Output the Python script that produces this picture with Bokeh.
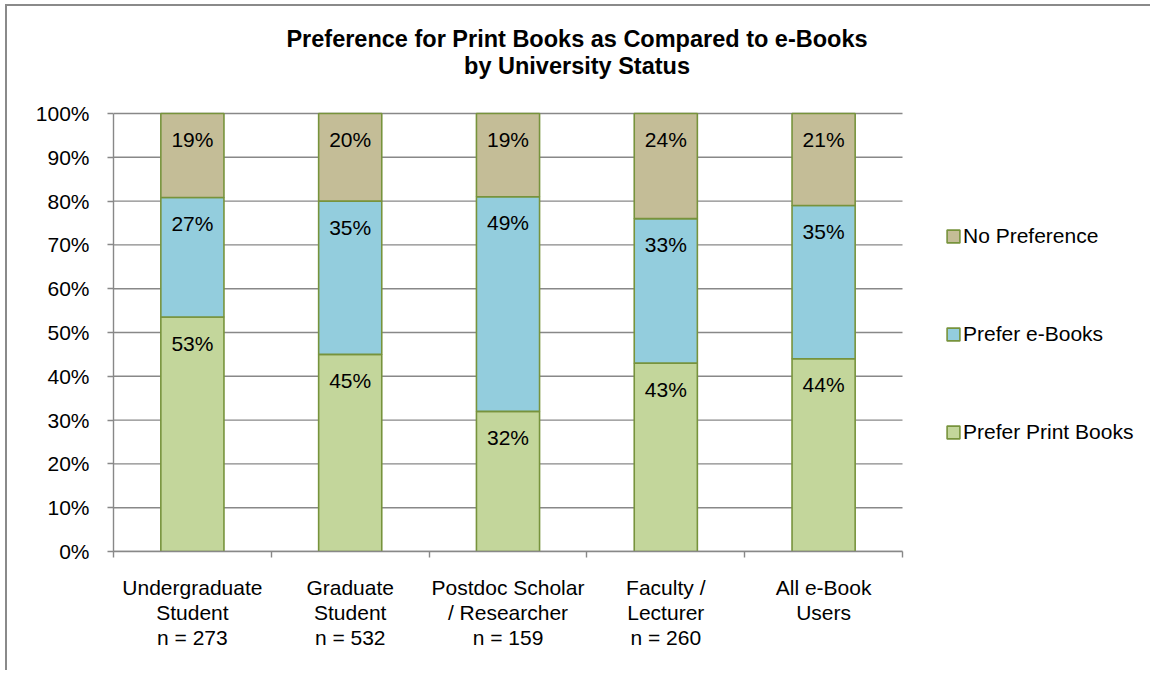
from bokeh.plotting import figure
from bokeh.models import (ColumnDataSource, Range1d, FixedTicker, Legend, LegendItem, Label)
from bokeh.core.properties import value
from bokeh.embed import file_html
from bokeh.resources import INLINE

# ---- data ----
categories = ["Undergraduate\nStudent\nn = 273", "Graduate\nStudent\nn = 532",
              "Postdoc Scholar\n/ Researcher\nn = 159", "Faculty /\nLecturer\nn = 260",
              "All e-Book\nUsers"]
prefer_print = [53, 45, 32, 43, 44]
prefer_ebooks = [27, 35, 49, 33, 35]
no_preference = [19, 20, 19, 24, 21]
series_names = ["Prefer Print Books", "Prefer e-Books", "No Preference"]
series_colors = ["#C3D69B", "#93CDDD", "#C4BD97"]
y_ticks = [0, 10, 20, 30, 40, 50, 60, 70, 80, 90, 100]
y_tick_labels = ["0%", "10%", "20%", "30%", "40%", "50%", "60%", "70%", "80%", "90%", "100%"]
title_lines = ["Preference for Print Books as Compared to e-Books", "by University Status"]

FONT = "Liberation Sans"
FS = "21px"
GRID = "#888888"
EDGE = "#77933C"

# 100% stacked shares
n = len(categories)
xs = [i + 0.5 for i in range(n)]
totals = [a + b + c for a, b, c in zip(prefer_print, prefer_ebooks, no_preference)]
s_print = [100.0 * a / t for a, t in zip(prefer_print, totals)]
s_ebook = [100.0 * b / t for b, t in zip(prefer_ebooks, totals)]
s_none = [100.0 * c / t for c, t in zip(no_preference, totals)]
top_print = s_print
top_ebook = [a + b for a, b in zip(s_print, s_ebook)]
top_none = [a + b + c for a, b, c in zip(s_print, s_ebook, s_none)]

src = ColumnDataSource(dict(x=xs, p=s_print, e=s_ebook, np_=s_none))

# layout: the frame reaches the top and right edges so the title and legend
# (annotations inside the frame) are not clipped; the plot area proper is 789 x 438 px
W, H = 1145, 666
LEFT, BOTTOM = 106, 121
PLOT_W, PLOT_H = 789, 438
frame_w, frame_h = W - LEFT, H - BOTTOM
p = figure(width=W, height=H, output_backend="svg", toolbar_location=None,
           x_range=Range1d(0, n * frame_w / PLOT_W), y_range=Range1d(0, 100 * frame_h / PLOT_H),
           min_border_left=LEFT, min_border_right=0, min_border_top=0, min_border_bottom=BOTTOM,
           styles={"border-left": "2px solid #8a8a8a", "border-top": "2px solid #8a8a8a",
                   "margin-left": "5px", "margin-top": "4px"})
p.outline_line_color = None
p.background_fill_color = "white"
p.border_fill_color = "white"
p.xgrid.grid_line_color = None
p.ygrid.grid_line_color = None

# horizontal gridlines over the plot area only
p.segment(x0=[0] * len(y_ticks), x1=[n] * len(y_ticks), y0=y_ticks, y1=y_ticks,
          line_color=GRID, line_width=1.4)

rs = p.vbar_stack(["p", "e", "np_"], x="x", width=0.4, source=src,
                  fill_color=series_colors, line_color=EDGE, line_width=1.6)

# data labels (inside end)
for tops, vals in [(top_print, prefer_print), (top_ebook, prefer_ebooks), (top_none, no_preference)]:
    lsrc = ColumnDataSource(dict(x=xs, y=tops, t=[f"{v}%" for v in vals]))
    p.text(x="x", y="y", text="t", source=lsrc, y_offset=26, text_align="center",
           text_baseline="middle", text_font=value(FONT), text_font_size=FS,
           text_color="black")

# axes
xa = p.xaxis[0]
xa.bounds = (0, n)
xa.ticker = FixedTicker(ticks=xs, minor_ticks=list(range(n + 1)))
xa.major_label_overrides = {x: c for x, c in zip(xs, categories)}
xa.major_tick_out = 0
xa.major_tick_in = 0
xa.minor_tick_out = 6
xa.minor_tick_in = 0
xa.minor_tick_line_color = GRID
xa.minor_tick_line_width = 1.4
xa.axis_line_color = GRID
xa.axis_line_width = 1.4
xa.major_label_standoff = 18
xa.major_label_text_font = FONT
xa.major_label_text_font_size = FS
xa.major_label_text_line_height = 1.1
xa.major_label_text_color = "black"

ya = p.yaxis[0]
ya.bounds = (0, 100)
ya.ticker = FixedTicker(ticks=y_ticks, minor_ticks=[])
ya.major_label_overrides = {t: l for t, l in zip(y_ticks, y_tick_labels)}
ya.major_tick_out = 6
ya.major_tick_in = 0
ya.major_tick_line_color = GRID
ya.major_tick_line_width = 1.4
ya.minor_tick_out = 0
ya.minor_tick_in = 0
ya.axis_line_color = GRID
ya.axis_line_width = 1.4
ya.major_label_standoff = 18
ya.major_label_text_font = FONT
ya.major_label_text_font_size = FS
ya.major_label_text_color = "black"

# legend (top entry = top of stack), right of the plot area
items = [LegendItem(label=series_names[i], renderers=[rs[i]]) for i in (2, 1, 0)]
legend = Legend(items=items, location=(832, 107), orientation="vertical",
                glyph_width=16, glyph_height=16, label_standoff=2, spacing=74,
                padding=0, margin=0, border_line_color=None, background_fill_alpha=0,
                label_text_font=FONT, label_text_font_size=FS, label_text_color="black",
                label_height=24)
p.add_layout(legend)

# two-line centred title
for i, line in enumerate(title_lines):
    p.add_layout(Label(x=463.5, y=513 - 27.3 * i, x_units="screen", y_units="screen",
                       text=line, text_align="center", text_baseline="alphabetic",
                       text_font=FONT, text_font_size="23.5px", text_font_style="bold",
                       text_color="black"))

open("out.html", "w").write(file_html(p, INLINE))
